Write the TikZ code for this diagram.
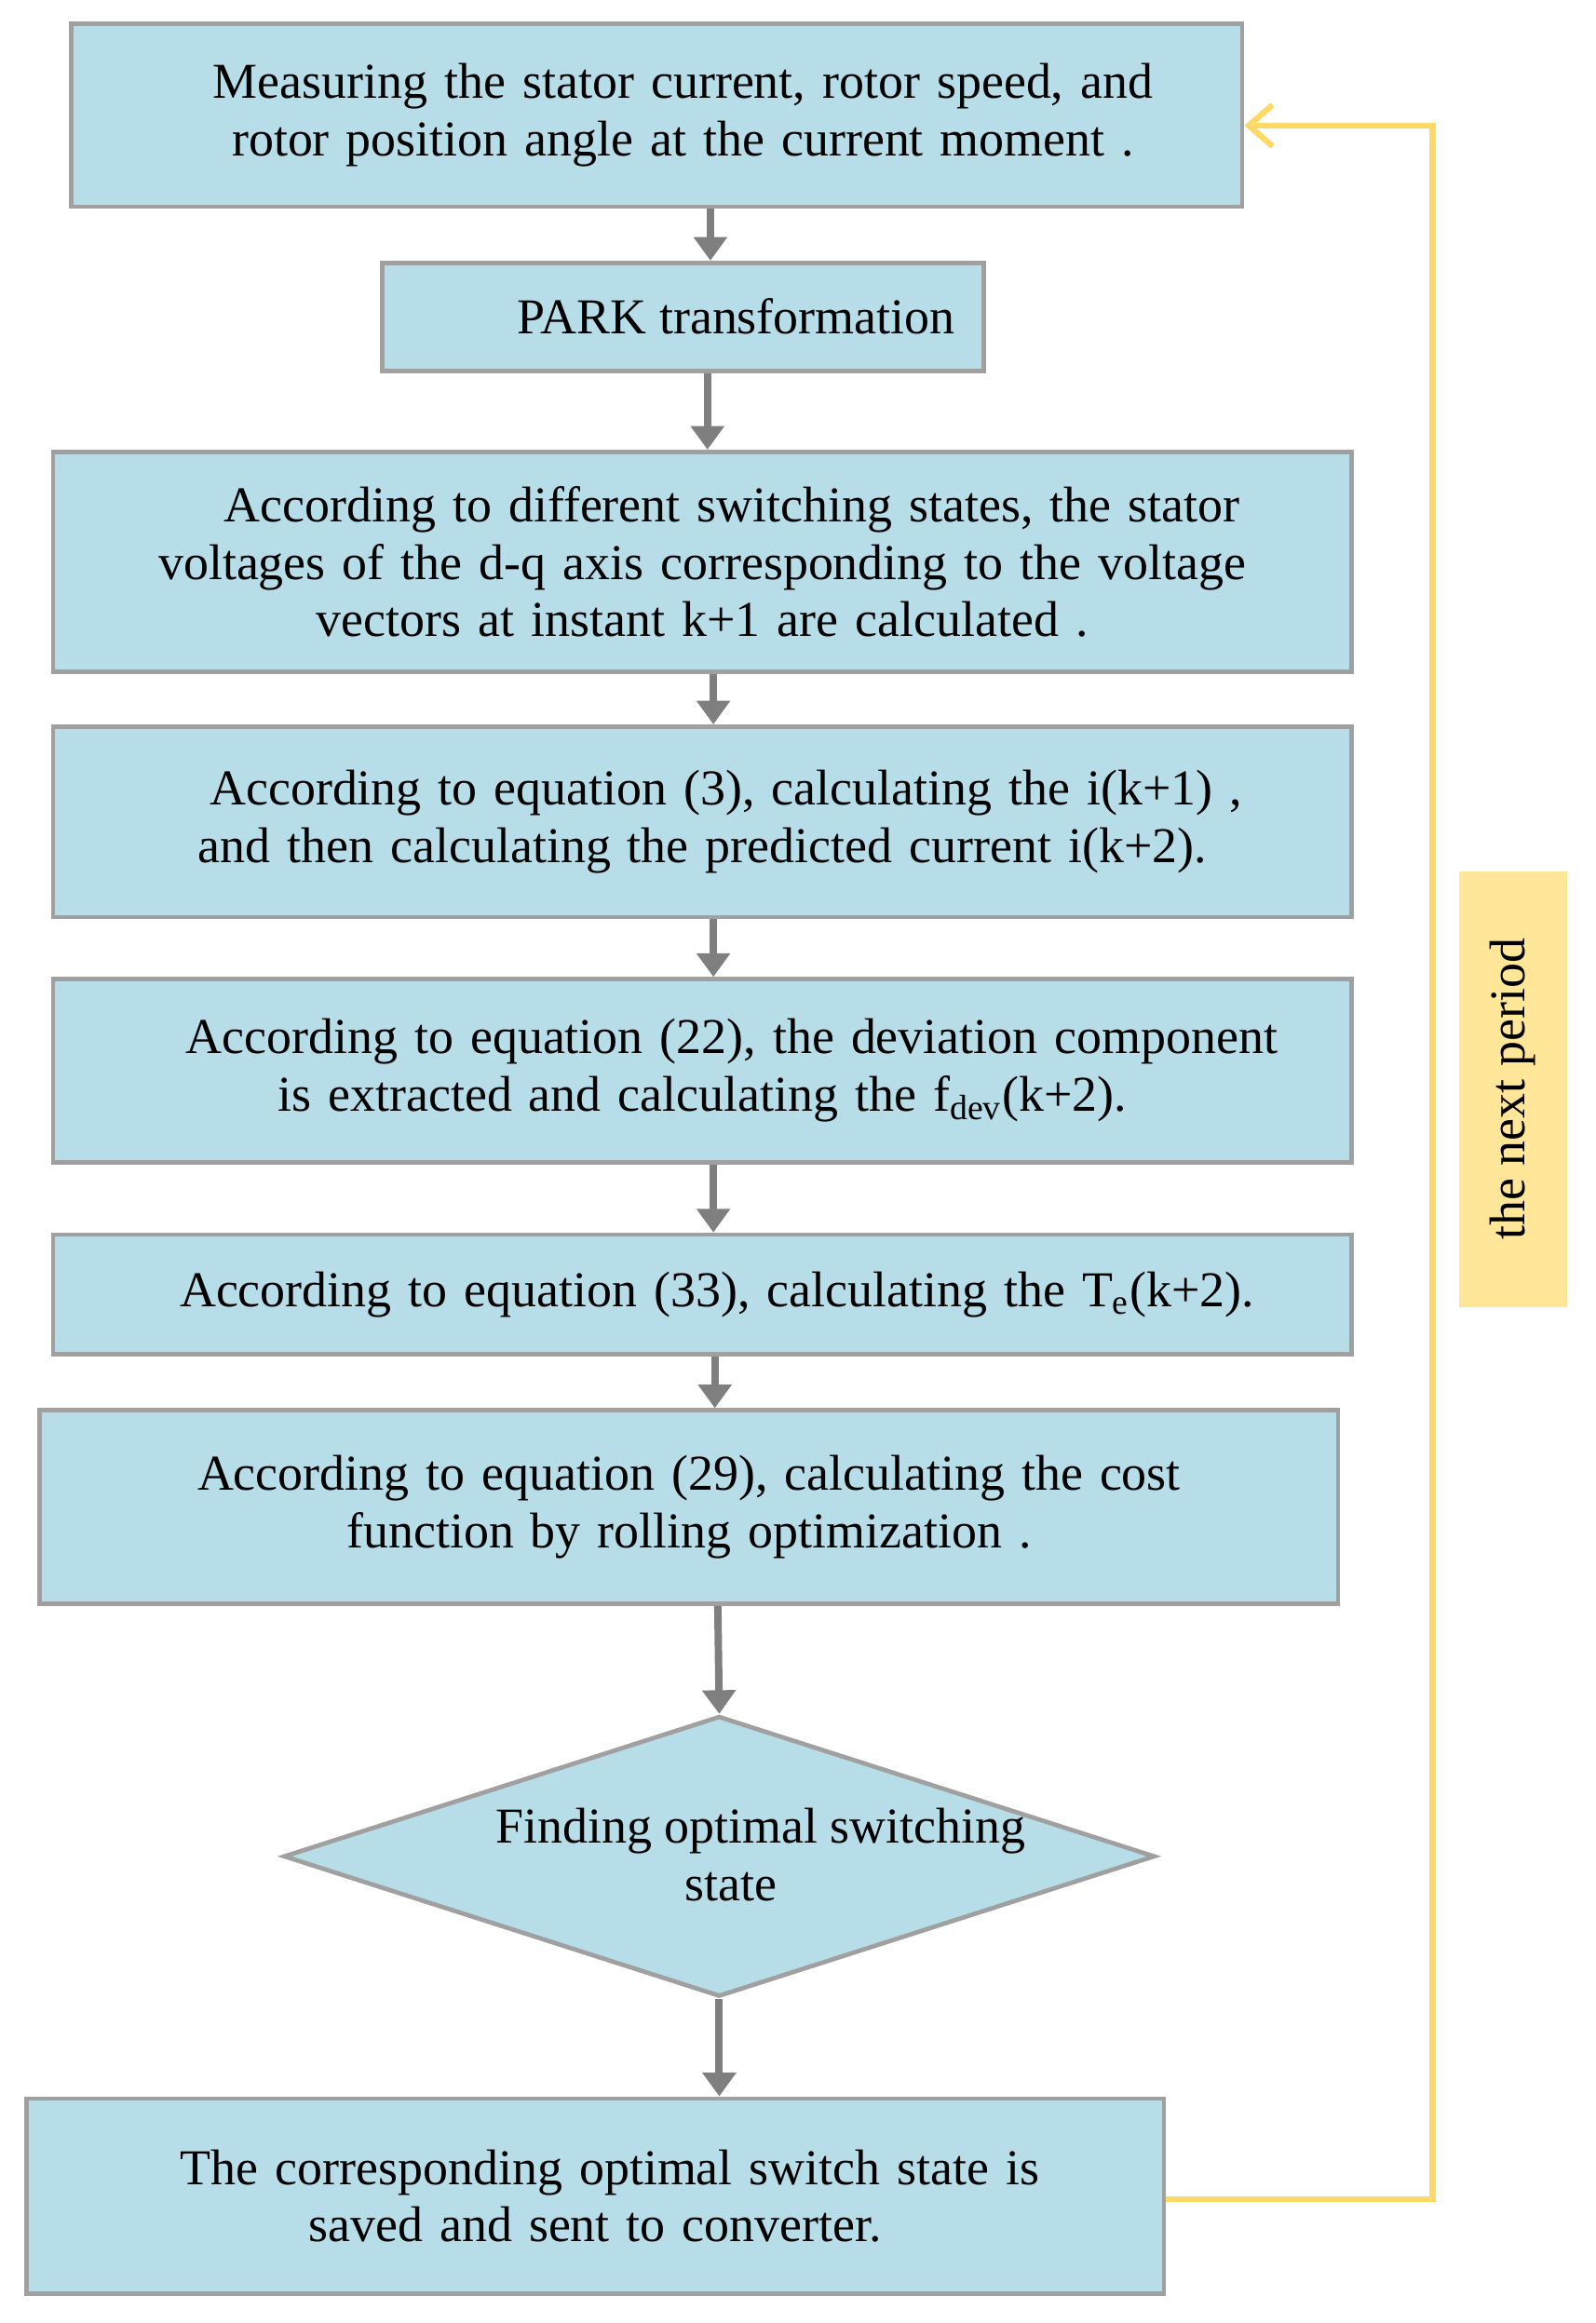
\documentclass[tikz,border=0pt]{standalone}
\usepackage{fontspec}
\setmainfont{Liberation Serif}
\usetikzlibrary{shapes.geometric,arrows.meta}
\definecolor{boxfill}{HTML}{B7DDE8}
\definecolor{boxline}{HTML}{A0A0A0}
\definecolor{arrgray}{HTML}{7F7F7F}
\definecolor{loopline}{HTML}{FFD966}
\definecolor{loopfill}{HTML}{FFE699}
\tikzset{
  stage/.style={draw=boxline, line width=1.5pt, fill=boxfill, inner sep=0pt,
    align=center, font=\fontsize{17}{19.5}\selectfont},
  flow/.style={draw=arrgray, line width=2.5pt, -{Triangle[length=8pt,width=11pt]}},
}
\begin{document}
\begin{tikzpicture}[x=0.5pt, y=-0.5pt]
  \useasboundingbox (0,0) rectangle (1080,1573);

  %% process steps
  \node[stage, minimum width=396.5pt, minimum height=62pt, text width=380pt]
    (meas) at (444.5,78) {\hspace*{18pt}Measuring the stator current, rotor speed, and\\
    \hspace*{18pt}rotor position angle at the current moment .};
  \node[stage, minimum width=203.5pt, minimum height=36.5pt]
    (park) at (462.5,214.5) {\hspace*{36pt}PARK transformation};
  \node[stage, minimum width=439.5pt, minimum height=74.5pt, text width=430pt]
    (volt) at (475.5,380.5) {\hspace*{20pt}According to different switching states, the stator\\
    voltages of the d-q axis corresponding to the voltage\\
    vectors at instant k+1 are calculated .};
  \node[stage, minimum width=439.5pt, minimum height=64.5pt, text width=430pt]
    (pred) at (475.5,556.5) {\hspace*{16pt}According to equation (3), calculating the i(k+1) ,\\
    and then calculating the predicted current i(k+2).};
  \node[stage, minimum width=439.5pt, minimum height=62pt, text width=430pt]
    (dev) at (475.5,725) {\hspace*{20pt}According to equation (22), the deviation component\\
    is extracted and calculating the f\textsubscript{dev}(k+2).};
  \node[stage, minimum width=439.5pt, minimum height=40.5pt, text width=430pt]
    (torq) at (475.5,876.5) {\hspace*{10pt}According to equation (33), calculating the T\textsubscript{e}(k+2).};
  \node[stage, minimum width=439.5pt, minimum height=65.5pt, text width=430pt]
    (cost) at (466.5,1020.5) {According to equation (29), calculating the cost\\
    function by rolling optimization .};
  \node[stage, diamond, minimum width=295pt, minimum height=95pt, aspect=3.1]
    (best) at (487,1257) {};
  \node[font=\fontsize{17}{19.5}\selectfont, align=center]
    (bestt) at (495,1256) {\hspace*{20pt}Finding optimal switching\\state};
  \node[stage, minimum width=385pt, minimum height=66pt, text width=380pt]
    (save) at (403,1487) {\hspace*{10pt}The corresponding optimal switch state is\\
    saved and sent to converter.};

  %% label of the loop
  \node[fill=loopfill, minimum width=36.5pt, minimum height=147.5pt, inner sep=0pt]
    (next) at (1024.5,737.5) {};
  \node[rotate=90, font=\fontsize{17}{19.5}\selectfont] (nextt) at (next) {the next period};

  %% arrows
  \draw[flow] (meas.south -| 481,0) -- (park.north -| 481,0);
  \draw[flow] (park.south -| 479,0) -- (volt.north -| 479,0);
  \draw[flow] (volt.south -| 483,0) -- (pred.north -| 483,0);
  \draw[flow] (pred.south -| 483,0) -- (dev.north -| 483,0);
  \draw[flow] (dev.south -| 483,0) -- (torq.north -| 483,0);
  \draw[flow] (torq.south -| 484,0) -- (cost.north -| 484,0);
  \draw[flow] (cost.south -| 486,0) -- (best.north);
  \draw[flow] (best.south) -- (save.north -| best.south);

  %% feedback
  \coordinate (turn) at (970,1489);
  \draw[draw=loopline, line width=2pt, -{Straight Barb[length=8pt,width=14pt]}]
    (save.east |- turn) -- (turn) |- (meas.east |- 0,85);
\end{tikzpicture}
\end{document}
